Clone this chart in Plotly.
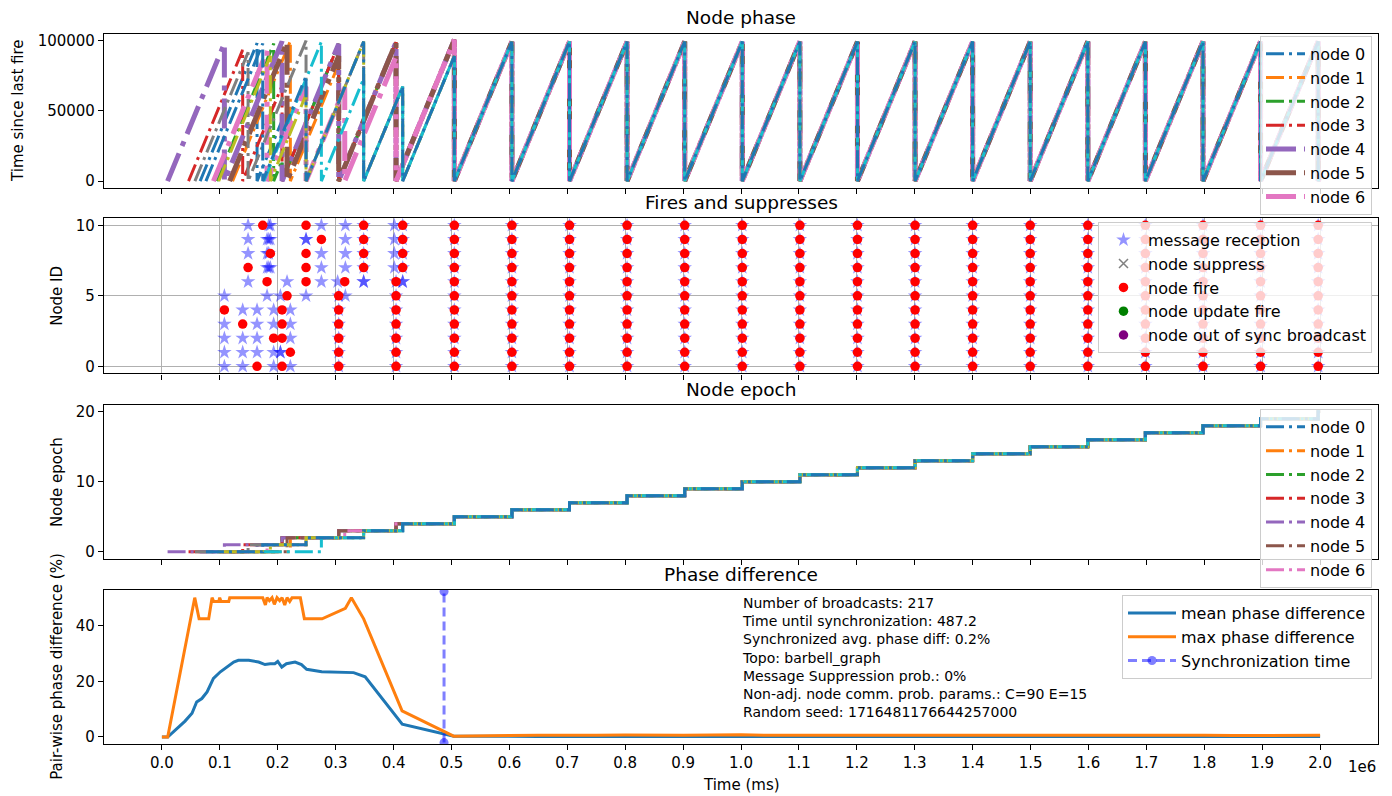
import plotly.graph_objects as go

W, H = 1392, 796
FONT = "DejaVu Sans"

# ---------------------------------------------------------------- data
node_ids = list(range(11))
node_colors = ["#1f77b4", "#ff7f0e", "#2ca02c", "#d62728", "#9467bd", "#8c564b",
               "#e377c2", "#7f7f7f", "#bcbd22", "#17becf", "#1f77b4"]

# time (ms) at which each node starts counting its phase
node_start = [66000, 122000, 95000, 46000, 9800, 117000, 89000, 57000, 98000, 176000, 76000]

# fire times before the network settles, per node
early_fires = [
    [164300, 207500, 305300, 404300],
    [221800, 305300, 404300],
    [193000, 207500, 305300, 404300],
    [139500, 207500, 305300, 404300],
    [107900, 207500, 305300, 404300],
    [216100, 305300, 404300],
    [181600, 248900, 315700, 404300],
    [148800, 248900, 348400, 415800],
    [187300, 248900, 348400, 415800],
    [275400, 348400, 415800],
    [174100, 248900, 348400, 415800],
]
# epoch each node holds after each of its early fires
early_epochs = [
    [1, 2, 3, 4],
    [2, 3, 4],
    [1, 2, 3, 4],
    [1, 2, 3, 4],
    [1, 2, 3, 4],
    [2, 3, 4],
    [1, 2, 3, 4],
    [1, 2, 3, 4],
    [1, 2, 3, 4],
    [2, 3, 4],
    [1, 2, 3, 4],
]
# common fire times once all nodes are synchronized, and the epoch reached at each
sync_fires = [505000, 604400, 703900, 803300, 902800, 1002200, 1101700, 1201100,
              1300600, 1400000, 1499400, 1598900, 1698300, 1797800, 1897200, 1996700]
sync_epochs = [5, 6, 7, 8, 9, 10, 11, 12, 13, 14, 15, 16, 17, 18, 19, 20]
end_time = 2000000

# message receptions before synchronization
recv_node = [10, 10, 10, 10, 10, 10,
             9, 9, 9, 9, 9, 9, 9, 9,
             8, 8, 8, 8, 8, 8,
             7, 7, 7, 7, 7, 7,
             6, 6, 6, 6, 6, 6, 6, 6,
             5, 5, 5, 5, 5,
             4, 4, 4, 4,
             3, 3, 3, 3,
             2, 2, 2, 2,
             1, 1, 1, 1, 1, 1,
             0, 0, 0, 0]
recv_time = [148800, 184500, 187300, 275400, 316800, 401400,
             148800, 181600, 184500, 187300, 248900, 248900, 316800, 401400,
             148800, 181600, 184500, 275400, 316800, 401400,
             181600, 184500, 187300, 275400, 316800, 401400,
             148800, 216100, 275400, 303500, 348400, 348400, 415800, 415800,
             107900, 181600, 204600, 248900, 316800,
             139500, 164300, 193000, 221800,
             107900, 164300, 193000, 221800,
             107900, 139500, 164300, 221800,
             107900, 139500, 164300, 193000, 204600, 204600,
             107900, 139500, 193000, 221800]

# pair-wise phase difference (%)
mean_t = [0, 10000, 40000, 52000, 60000, 69000, 78000, 89000, 101000, 112000, 124000,
          132000, 150000, 167000, 178000, 187000, 195000, 200000, 207000, 215000,
          230000, 241000, 250000, 276000, 331000, 351000, 415000, 504000,
          550000, 600000, 650000, 700000, 750000, 800000, 850000, 900000, 950000,
          1000000, 1050000, 1100000, 1150000, 1200000, 1250000, 1300000, 1350000,
          1400000, 1450000, 1500000, 1550000, 1600000, 1650000, 1700000, 1750000,
          1800000, 1850000, 1900000, 1950000, 2000000]
mean_v = [0, 0, 5.7, 8.5, 12.6, 13.8, 16.2, 21.0, 23.4, 25.1, 26.9,
          27.5, 27.5, 26.9, 26.0, 26.3, 26.3, 27.1, 25.1, 26.3,
          26.9, 26.0, 24.3, 23.4, 23.1, 21.6, 4.6, 0.3,
          0.2, 0.2, 0.2, 0.2, 0.2, 0.2, 0.2, 0.2, 0.2,
          0.2, 0.2, 0.2, 0.2, 0.2, 0.2, 0.2, 0.2,
          0.2, 0.2, 0.2, 0.2, 0.2, 0.2, 0.2, 0.2,
          0.2, 0.2, 0.2, 0.2, 0.2]
max_t = [0, 10000, 56700, 64200, 80800, 86600, 89500, 98100, 99800, 102100, 115400,
         117100, 174100, 178700, 181600, 185600, 190200, 194200, 198800, 203400,
         207500, 212100, 216100, 220700, 224700, 229300, 239100, 246000, 276600,
         316800, 327200, 348400, 414700, 503800,
         550000, 600000, 650000, 700000, 750000, 800000, 850000, 900000, 950000,
         1000000, 1050000, 1100000, 1150000, 1200000, 1250000, 1300000, 1350000,
         1400000, 1450000, 1500000, 1550000, 1600000, 1650000, 1700000, 1750000,
         1800000, 1850000, 1900000, 1950000, 2000000]
max_v = [0, 0, 50.0, 42.4, 42.4, 50.0, 48.6, 48.6, 50.0, 48.6, 48.6,
         50.0, 50.0, 47.4, 50.0, 48.9, 50.0, 47.6, 50.0, 48.9,
         50.0, 47.4, 50.0, 48.6, 50.0, 50.0, 50.0, 42.4, 42.4,
         46.2, 50.0, 42.4, 9.4, 0.3,
         0.5, 0.5, 0.6, 0.5, 0.6, 0.7, 0.6, 0.6, 0.7,
         0.8, 0.6, 0.6, 0.7, 0.8, 0.7, 0.8, 0.6,
         0.6, 0.7, 0.8, 0.6, 0.7, 0.7, 0.8, 0.7,
         0.6, 0.5, 0.6, 0.7, 0.6]

sync_time = 487200
sync_span = [-2.0, 52.2]

stats_lines = [
    "Number of broadcasts: 217",
    "Time until synchronization: 487.2",
    "Synchronized avg. phase diff: 0.2%",
    "Topo: barbell_graph",
    "Message Suppression prob.: 0%",
    "Non-adj. node comm. prob. params.: C=90 E=15",
    "Random seed: 1716481176644257000",
]

x_tickvals = [0, 100000, 200000, 300000, 400000, 500000, 600000, 700000, 800000, 900000,
              1000000, 1100000, 1200000, 1300000, 1400000, 1500000, 1600000, 1700000,
              1800000, 1900000, 2000000]
x_ticktext = ["0.0", "0.1", "0.2", "0.3", "0.4", "0.5", "0.6", "0.7", "0.8", "0.9", "1.0",
              "1.1", "1.2", "1.3", "1.4", "1.5", "1.6", "1.7", "1.8", "1.9", "2.0"]
y_tickvals = [[0, 50000, 100000], [0, 5, 10], [0, 10, 20], [0, 20, 40]]
y_ticktext = [["0", "50000", "100000"], ["0", "5", "10"], ["0", "10", "20"], ["0", "20", "40"]]

# ---------------------------------------------------------------- styling
phase_width = [3, 3, 3, 3, 5, 5, 5, 3, 3, 3, 3]
phase_dash = ["18px,5px,3px,5px"] * 4 + ["30px,8px,5px,8px"] * 3 + ["18px,5px,3px,5px"] * 4
epoch_dash = "18px,5px,3px,5px"


def px_x(p):
    return p / W


def px_y(p):
    return 1 - p / H


x_dom = [px_x(104), px_x(1378)]
rows = [(31.7, 187.3), (217.3, 373.3), (404.7, 560.0), (590.7, 745.7)]

fig = go.Figure()

all_fires = [early_fires[n] + sync_fires for n in node_ids]
all_epochs = [early_epochs[n] + sync_epochs for n in node_ids]

# Node phase: time since each node's last fire
for n in node_ids:
    xs, ys = [node_start[n]], [0]
    last = node_start[n]
    for f in all_fires[n]:
        xs += [f, f]
        ys += [f - last, 0]
        last = f
    xs.append(end_time)
    ys.append(end_time - last)
    fig.add_trace(go.Scatter(
        x=xs, y=ys, mode="lines", name=f"node {n}",
        line=dict(color=node_colors[n], width=phase_width[n], dash=phase_dash[n]),
        xaxis="x", yaxis="y", legend="legend", showlegend=n <= 6))

# Fires and suppresses
star_x, star_y = list(recv_time), list(recv_node)
for n in node_ids:
    for f in all_fires[n]:
        if f >= 300000 and any(f in all_fires[m] for m in node_ids if m != n):
            star_x.append(f)
            star_y.append(n)
fig.add_trace(go.Scatter(
    x=star_x, y=star_y, mode="markers", name="message reception",
    marker=dict(symbol="star", size=11, color="rgba(0,0,255,0.42)", line=dict(width=0)),
    xaxis="x2", yaxis="y2", legend="legend2"))
fig.add_trace(go.Scatter(
    x=[None], y=[None], mode="markers", name="node suppress",
    marker=dict(symbol="x-thin", size=9, color="gray", line=dict(width=1.5, color="gray")),
    xaxis="x2", yaxis="y2", legend="legend2"))
fire_x = [f for n in node_ids for f in all_fires[n]]
fire_y = [n for n in node_ids for f in all_fires[n]]
fig.add_trace(go.Scatter(
    x=fire_x, y=fire_y, mode="markers", name="node fire",
    marker=dict(symbol="circle", size=9.5, color="red", line=dict(width=0)),
    xaxis="x2", yaxis="y2", legend="legend2"))
fig.add_trace(go.Scatter(
    x=[None], y=[None], mode="markers", name="node update fire",
    marker=dict(symbol="circle", size=9.5, color="green"),
    xaxis="x2", yaxis="y2", legend="legend2"))
fig.add_trace(go.Scatter(
    x=[None], y=[None], mode="markers", name="node out of sync broadcast",
    marker=dict(symbol="circle", size=9.5, color="purple"),
    xaxis="x2", yaxis="y2", legend="legend2"))

# Node epoch
for n in node_ids:
    xs = [node_start[n]] + all_fires[n] + [end_time]
    ys = [0] + all_epochs[n] + [all_epochs[n][-1]]
    fig.add_trace(go.Scatter(
        x=xs, y=ys, mode="lines", name=f"node {n}", line_shape="hv",
        line=dict(color=node_colors[n], width=3, dash=epoch_dash),
        xaxis="x3", yaxis="y3", legend="legend3", showlegend=n <= 6))

# Phase difference
fig.add_trace(go.Scatter(
    x=mean_t, y=mean_v, mode="lines", name="mean phase difference",
    line=dict(color="#1f77b4", width=3), xaxis="x4", yaxis="y4", legend="legend4"))
fig.add_trace(go.Scatter(
    x=max_t, y=max_v, mode="lines", name="max phase difference",
    line=dict(color="#ff7f0e", width=3), xaxis="x4", yaxis="y4", legend="legend4"))
fig.add_trace(go.Scatter(
    x=[sync_time, sync_time], y=sync_span, mode="lines+markers", name="Synchronization time",
    line=dict(color="rgba(0,0,255,0.5)", width=3, dash="9px,5px"),
    marker=dict(symbol="circle", size=9, color="rgba(0,0,255,0.5)"),
    xaxis="x4", yaxis="y4", legend="legend4"))

# ---------------------------------------------------------------- axes
axis_common = dict(showline=True, mirror=True, linecolor="#000000", linewidth=1.2,
                   ticks="outside", ticklen=5, tickwidth=1.2, tickcolor="#000000",
                   tickfont=dict(family=FONT, size=15, color="#000000"), zeroline=False)
y_ranges = [[-5180, 105180], [-0.5, 10.5], [-1.05, 21.0], [-2.5, 52.85]]
layout = dict(width=W, height=H, margin=dict(l=0, r=0, t=0, b=0),
              paper_bgcolor="white", plot_bgcolor="white", showlegend=True)
for i in range(4):
    sfx = "" if i == 0 else str(i + 1)
    top, bot = rows[i]
    grid = i == 1
    layout["xaxis" + sfx] = dict(
        axis_common, domain=x_dom, anchor="y" + sfx, range=[-100000, 2100000],
        tickvals=x_tickvals, ticktext=x_ticktext, showticklabels=(i == 3),
        showgrid=grid, gridcolor="#b0b0b0", gridwidth=1.2)
    if i > 0:
        layout["xaxis" + sfx]["matches"] = "x"
    layout["yaxis" + sfx] = dict(
        axis_common, domain=[px_y(bot), px_y(top)], anchor="x" + sfx, range=y_ranges[i],
        tickvals=y_tickvals[i], ticktext=y_ticktext[i],
        showgrid=grid, gridcolor="#b0b0b0", gridwidth=1.2)

legend_style = dict(bgcolor="rgba(255,255,255,0.8)", bordercolor="#cccccc", borderwidth=1,
                    font=dict(family=FONT, size=16, color="#000000"),
                    xanchor="right", yanchor="top")
layout["legend"] = dict(legend_style, x=px_x(1372), y=px_y(34), itemwidth=39)
layout["legend2"] = dict(legend_style, x=px_x(1372), y=px_y(221), itemwidth=39)
layout["legend3"] = dict(legend_style, x=px_x(1372), y=px_y(409), itemwidth=39)
layout["legend4"] = dict(legend_style, x=px_x(1372), y=px_y(596), itemwidth=48)
fig.update_layout(**layout)

# titles and labels
titles = ["Node phase", "Fires and suppresses", "Node epoch", "Phase difference"]
title_y = [16, 202, 389, 575]
for t, yy in zip(titles, title_y):
    fig.add_annotation(text=t, x=px_x(741), y=px_y(yy), xref="paper", yref="paper",
                       showarrow=False, xanchor="center", yanchor="middle",
                       font=dict(family=FONT, size=18.5, color="#000000"))
ylabels = ["Time since last fire", "Node ID", "Node epoch", "Pair-wise phase difference (%)"]
ylabel_x = [18, 57, 57, 57]
for lab, xx, (top, bot) in zip(ylabels, ylabel_x, rows):
    fig.add_annotation(text=lab, x=px_x(xx), y=px_y((top + bot) / 2), xref="paper",
                       yref="paper", showarrow=False, textangle=-90,
                       xanchor="center", yanchor="middle",
                       font=dict(family=FONT, size=15, color="#000000"))
fig.add_annotation(text="Time (ms)", x=px_x(741), y=px_y(787), xref="paper", yref="paper",
                   showarrow=False, xanchor="center", yanchor="middle",
                   font=dict(family=FONT, size=15, color="#000000"))
fig.add_annotation(text="1e6", x=px_x(1378), y=px_y(769), xref="paper", yref="paper",
                   showarrow=False, xanchor="right", yanchor="middle",
                   font=dict(family=FONT, size=15, color="#000000"))
fig.add_annotation(text="<br>".join(stats_lines), x=px_x(740), y=px_y(594), xref="paper",
                   yref="paper", showarrow=False, xanchor="left", yanchor="top",
                   align="left", font=dict(family=FONT, size=14, color="#000000"))

fig.write_html("out.html")
